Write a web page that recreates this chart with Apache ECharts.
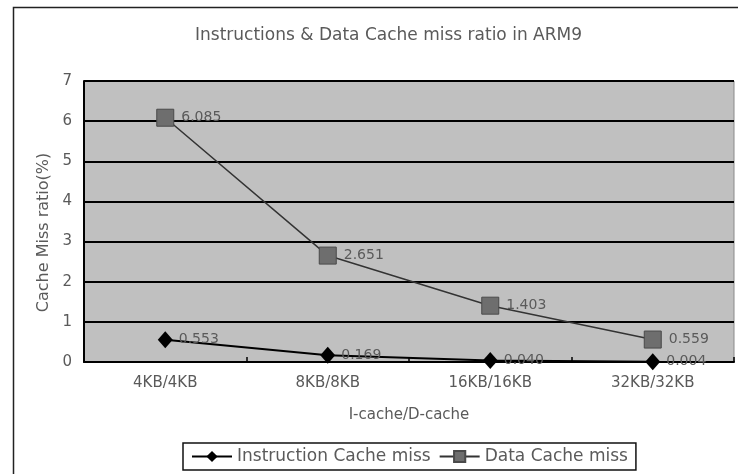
<!DOCTYPE html>
<html><head><meta charset="utf-8">
<script src="https://cdn.jsdelivr.net/npm/echarts@6/dist/echarts.min.js"></script>
<style>html,body{margin:0;padding:0;background:#fff}#c{width:738px;height:474px}</style>
</head><body><div id="c"></div>
<script>
const categories = ['4KB/4KB', '8KB/8KB', '16KB/16KB', '32KB/32KB'];
const instructionMiss = [0.553, 0.169, 0.040, 0.004];
const dataMiss = [6.085, 2.651, 1.403, 0.559];
const yTicks = [0, 1, 2, 3, 4, 5, 6, 7];

const FONT = 'DejaVu Sans';
const TXT = '#5a5a5a';
const chart = echarts.init(document.getElementById('c'), null, {renderer: 'canvas'});
chart.setOption({
  animation: false,
  backgroundColor: '#fff',
  title: {
    text: 'Instructions & Data Cache miss ratio in ARM9',
    left: 190, top: 22,
    textStyle: {fontFamily: FONT, fontSize: 17, fontWeight: 'normal', color: TXT}
  },
  graphic: [{
    type: 'rect', silent: true, z: -1,
    shape: {x: 13.5, y: 7.5, width: 800, height: 520},
    style: {fill: 'none', stroke: '#222', lineWidth: 1.5}
  }],
  grid: {
    left: 84, right: 4, top: 81, bottom: 112,
    show: true, backgroundColor: '#c0c0c0', borderColor: '#8a8a8a', borderWidth: 1
  },
  legend: {
    bottom: 4, left: 183,
    data: ['Instruction Cache miss', 'Data Cache miss'],
    itemWidth: 40, itemHeight: 14, itemGap: 8,
    padding: [5, 8, 5, 8],
    borderColor: '#111', borderWidth: 1.5,
    textStyle: {fontFamily: FONT, fontSize: 17, color: TXT}
  },
  xAxis: {
    type: 'category', data: categories, boundaryGap: true,
    name: 'I-cache/D-cache', nameLocation: 'middle', nameGap: 46,
    nameTextStyle: {fontFamily: FONT, fontSize: 15, color: TXT},
    axisLine: {lineStyle: {color: '#000', width: 2}},
    axisTick: {show: true, inside: true, length: 5, lineStyle: {color: '#000', width: 1.5}},
    axisLabel: {fontFamily: FONT, fontSize: 15, color: TXT, margin: 14}
  },
  yAxis: {
    type: 'value', min: yTicks[0], max: yTicks[yTicks.length - 1], interval: 1,
    name: 'Cache Miss ratio(%)', nameLocation: 'middle', nameGap: 32, nameRotate: 90,
    nameTextStyle: {fontFamily: FONT, fontSize: 16, color: TXT, padding: [0, 22, 0, 0]},
    axisLine: {show: true, lineStyle: {color: '#000', width: 2}},
    axisTick: {show: false},
    axisLabel: {fontFamily: FONT, fontSize: 15, color: TXT, margin: 12},
    splitLine: {lineStyle: {color: '#000', width: 2}}
  },
  series: [{
    name: 'Instruction Cache miss', type: 'line', data: instructionMiss,
    symbol: 'diamond', symbolSize: [15, 17],
    itemStyle: {color: '#000'},
    lineStyle: {color: '#000', width: 2},
    label: {show: true, position: 'right', distance: 6, fontFamily: FONT, fontSize: 14, color: TXT,
      formatter: p => p.value.toFixed(3)},
    z: 3
  }, {
    name: 'Data Cache miss', type: 'line', data: dataMiss,
    symbol: 'rect', symbolSize: 17,
    itemStyle: {color: '#6e6e6e', borderColor: '#4a4a4a', borderWidth: 1},
    lineStyle: {color: '#333', width: 1.5},
    label: {show: true, position: 'right', distance: 7, fontFamily: FONT, fontSize: 14, color: TXT,
      formatter: p => p.value.toFixed(3)},
    z: 2
  }]
});
</script></body></html>
